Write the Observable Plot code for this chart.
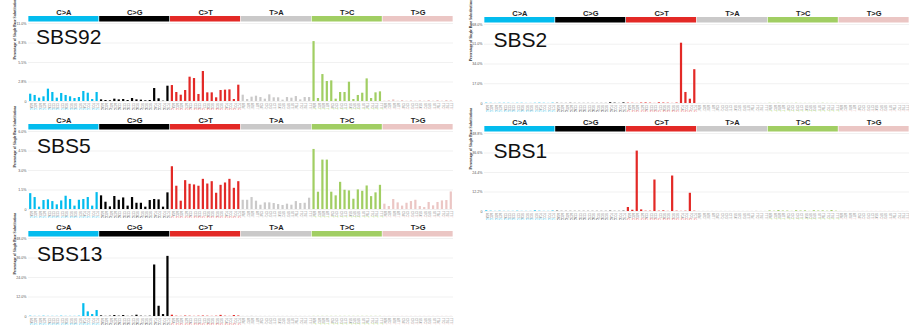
<!DOCTYPE html>
<html><head><meta charset="utf-8">
<script src="https://cdn.jsdelivr.net/npm/d3@7"></script>
<script src="https://cdn.jsdelivr.net/npm/@observablehq/plot@0.6"></script>
<style>
html,body{margin:0;padding:0;background:#fff;}
#root{position:relative;width:909px;height:331px;overflow:hidden;background:#fff;}
.panel{position:absolute;}
</style></head><body><div id="root"></div>
<script>
const mutationTypes = ["C>A","C>G","C>T","T>A","T>C","T>G"];
const typeColors = ["#03BCEE","#010101","#E32926","#CAC9C9","#A1CE63","#EBC6C4"];
const bases = ["A","C","G","T"];

// values in percent, order: C>A, C>G, C>T, T>A, T>C, T>G (16 contexts each, 5' base then 3' base)
const sbs92 = [
  1.03,0.85,0.47,0.66,1.74,1.27,0.47,1.13,0.85,0.66,0.42,0.56,1.41,1.17,0.28,1.27,
  0.23,0.14,0.10,0.33,0.23,0.28,0.14,0.42,0.23,0.19,0.10,0.14,1.83,0.38,0.05,2.16,
  2.25,1.27,0.89,1.55,3.43,3.24,0.99,4.23,1.22,1.22,0.52,1.55,1.60,1.64,0.28,2.30,
  0.89,0.28,0.61,0.75,0.56,0.33,0.94,0.52,0.52,0.19,0.56,0.47,0.70,0.23,0.56,0.56,
  8.45,0.42,3.80,2.82,2.91,0.33,1.27,1.27,2.72,0.28,0.85,1.17,3.19,0.42,1.22,1.36,
  0.05,0.10,0.23,0.05,0.14,0.05,0.10,0.05,0.10,0.05,0.14,0.05,0.14,0.05,0.14,0.10
];
const sbs5 = [
  1.22,0.92,0.18,0.69,0.74,0.61,0.36,0.66,1.02,0.77,0.26,0.71,0.77,0.92,0.26,1.30,
  1.05,0.56,0.20,1.00,0.71,0.89,0.26,0.92,0.48,0.48,0.18,0.69,0.77,0.74,0.18,1.28,
  3.29,1.79,0.64,2.22,1.94,1.89,1.79,2.32,1.96,2.14,1.25,1.86,2.04,2.32,1.63,2.14,
  0.71,0.71,0.92,0.64,0.33,0.51,0.51,0.46,0.38,0.31,0.41,0.33,0.61,0.46,0.48,0.87,
  4.62,1.33,3.80,3.80,1.33,1.05,2.09,1.48,1.43,0.79,1.51,1.40,1.81,0.99,1.28,1.86,
  0.41,0.23,0.77,0.51,0.26,0.48,0.61,0.71,0.23,0.15,0.54,0.28,0.54,0.66,0.69,1.35
];
const sbs13 = [
  0.2,0.1,0.1,0.2,0.1,0.1,0.1,0.2,0.1,0.1,0.1,0.2,7.9,2.85,1.2,3.7,
  0.4,0.1,0.2,0.6,0.2,0.6,0.1,0.2,0.8,0.2,0.1,0.2,31.7,6.3,1.2,37.0,
  0.8,0.2,0.1,0.3,0.2,0.1,0.2,0.3,0.2,0.1,0.2,0.7,0.2,0.1,0.6,0.3,
  0.1,0.1,0.2,0.1,0.1,0.1,0.1,0.1,0.1,0.1,0.1,0.1,0.1,0.1,0.1,0.1,
  0.1,0.1,0.1,0.1,0.1,0.1,0.1,0.1,0.1,0.1,0.1,0.1,0.1,0.1,0.1,0.1,
  0.1,0.1,0.1,0.1,0.1,0.1,0.1,0.1,0.1,0.1,0.1,0.1,0.1,0.1,0.1,0.1
];
const sbs2 = [
  0.3,0.2,0.1,0.2,0.2,0.2,0.1,0.2,0.2,0.1,0.1,0.2,0.3,0.2,0.1,0.3,
  0.2,0.1,0.1,0.2,0.1,0.1,0.1,0.1,0.1,0.1,0.1,0.1,0.6,0.3,0.1,0.5,
  0.3,0.2,0.1,0.4,0.5,0.3,0.1,0.6,0.4,0.3,0.1,0.4,51.9,9.5,3.7,29.1,
  0.1,0.1,0.1,0.1,0.1,0.1,0.1,0.1,0.1,0.1,0.1,0.1,0.1,0.1,0.1,0.1,
  0.2,0.1,0.2,0.1,0.1,0.1,0.2,0.1,0.1,0.1,0.1,0.1,0.2,0.1,0.1,0.1,
  0.1,0.1,0.1,0.1,0.1,0.1,0.1,0.1,0.1,0.1,0.1,0.1,0.1,0.1,0.1,0.1
];
const sbs1 = [
  0.4,0.2,0.1,0.2,0.1,0.1,0.1,0.2,0.1,0.1,0.1,0.4,0.2,0.1,0.1,0.3,
  0.2,0.1,0.1,0.1,0.1,0.1,0.1,0.1,0.1,0.1,0.1,0.1,0.2,0.1,0.1,0.2,
  2.5,0.8,37.8,1.0,0.2,0.2,19.7,0.2,0.4,0.1,22.2,0.2,0.1,0.2,11.4,0.2,
  0.1,0.1,0.1,0.1,0.1,0.1,0.1,0.1,0.1,0.1,0.1,0.1,0.1,0.2,0.1,0.1,
  0.4,0.2,0.6,0.3,0.3,0.1,0.5,0.3,0.4,0.1,0.5,0.3,0.4,0.2,0.6,0.2,
  0.1,0.1,0.1,0.1,0.1,0.1,0.1,0.1,0.1,0.1,0.1,0.1,0.1,0.1,0.1,0.1
];

const ticks92 = [0, 2.75, 5.5, 8.25, 11];
const ticks5 = [0, 1.5, 3.0, 4.5, 6.0];
const ticks13 = [0, 12, 24, 36, 48];
const ticks2 = [0, 17, 34, 51, 68];
const ticks1 = [0, 12.2, 24.4, 36.6, 48.8];

const names = ["SBS92","SBS5","SBS13","SBS2","SBS1"];
const yTitle = "Percentage of Single Base Substitutions";

const contexts = [];
mutationTypes.forEach((t, g) => {
  bases.forEach(b5 => bases.forEach(b3 => {
    contexts.push({i: contexts.length, g, type: t, ref: t[0], ctx: b5 + t[0] + b3});
  }));
});

const layout = [
  {name: names[0], values: sbs92, ticks: ticks92, left: 0,   top: 0,   width: 460, mr: 7, h: 112, dx: 7.5, dy: 6},
  {name: names[1], values: sbs5,  ticks: ticks5,  left: 0,   top: 108, width: 460, mr: 7, h: 112, dx: 8.5, dy: 7},
  {name: names[2], values: sbs13, ticks: ticks13, left: 0,   top: 215, width: 460, mr: 7, h: 112, dx: 8.5, dy: 8},
  {name: names[3], values: sbs2,  ticks: ticks2,  left: 456, top: 1,   width: 453, mr: 0, h: 113, dx: 9,   dy: 8},
  {name: names[4], values: sbs1,  ticks: ticks1,  left: 456, top: 110, width: 453, mr: 0, h: 112, dx: 9,   dy: 10}
];

function makePanel(p) {
  const rows = contexts.map((c, i) => ({...c, value: p.values[i]}));
  const ymax = p.ticks[p.ticks.length - 1];
  const mt = 23, mb = p.h - 23 - (p.h === 113 ? 79 : 78);
  const plotH = p.h - mt - mb;
  const yAbove = px => ymax * (1 + px / plotH);
  const groups = mutationTypes.map((t, g) => ({t, g, color: typeColors[g]}));
  return Plot.plot({
    width: p.width, height: p.h,
    marginTop: mt, marginBottom: mb, marginLeft: 28, marginRight: p.mr,
    style: {fontFamily: "'Liberation Sans', Arial, sans-serif", background: "transparent", overflow: "visible"},
    x: {domain: [-0.5, 95.5], axis: null},
    y: {domain: [0, ymax], axis: null},
    color: {type: "identity"},
    marks: [
      Plot.ruleY(p.ticks, {stroke: "#e8e8e8", strokeWidth: 0.6}),
      Plot.axisY(p.ticks, {tickSize: 0, tickPadding: 2, fontSize: 3.6, fill: "#555",
        tickFormat: d => d === 0 ? "0" : d.toFixed(1) + "%", label: null}),
      Plot.text([yTitle], {frameAnchor: "left", rotate: -90, dx: -13.5, dy: -3, fontSize: 3.7,
        fontWeight: "bold", fontFamily: "'Liberation Serif', serif", fill: "#333"}),
      Plot.rectY(rows, {x1: d => d.i - 0.25, x2: d => d.i + 0.25, y1: 0, y2: "value",
        fill: d => typeColors[d.g]}),
      Plot.rect(groups, {x1: d => d.g * 16 - 0.42, x2: d => d.g * 16 + 15.42,
        y1: yAbove(1.5), y2: yAbove(7), fill: "color"}),
      Plot.text(groups, {x: d => d.g * 16 + 7.5, y: yAbove(10.5), text: "t",
        fontWeight: "bold", fontSize: 7.5, fill: "#222"}),
      Plot.text(rows, {x: "i", y: 0, text: "ctx", rotate: 90, textAnchor: "start",
        dy: 1.5, fontSize: 2.6, fill: "#8a8a8a"}),
      Plot.text(rows, {x: "i", y: 0, text: "ref", rotate: 90, textAnchor: "start",
        dy: 6.6, fontSize: 2.8, fill: d => typeColors[d.g]}),
      Plot.text([p.name], {frameAnchor: "top-left", dx: p.dx, dy: p.dy, fontSize: 21,
        textAnchor: "start", lineAnchor: "top", fill: "#111"})
    ]
  });
}

const root = document.getElementById("root");
layout.forEach(p => {
  const div = document.createElement("div");
  div.className = "panel";
  div.style.left = p.left + "px";
  div.style.top = p.top + "px";
  div.appendChild(makePanel(p));
  root.appendChild(div);
});
</script>
</body></html>
